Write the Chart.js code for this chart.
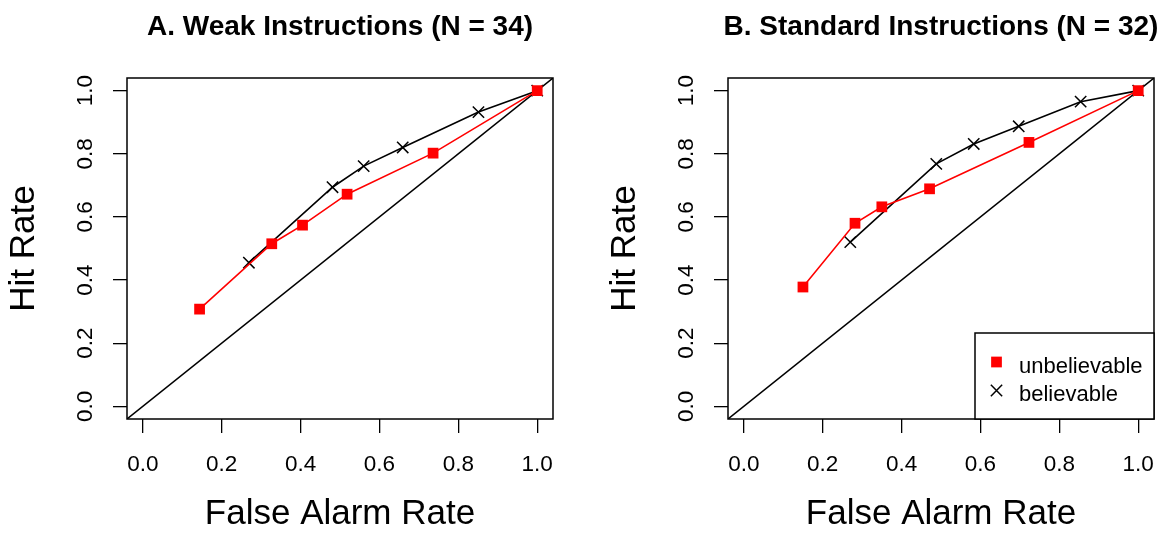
<!DOCTYPE html>
<html><head><meta charset="utf-8">
<script src="https://cdn.jsdelivr.net/npm/chart.js@4.4.0/dist/chart.umd.min.js"></script>
<style>
html,body{margin:0;padding:0;background:#fff;overflow:hidden;}
#wrap{position:relative;width:1165px;height:534px;overflow:hidden;background:#fff;}
canvas{position:absolute;top:0;}
</style></head><body>
<div id="wrap">
<canvas id="cA" width="680" height="534" style="left:0px"></canvas>
<canvas id="cB" width="680" height="534" style="left:601px"></canvas>
</div>
<script>
// ---- data ----
const panelTitles = ['A. Weak Instructions (N = 34)', 'B. Standard Instructions (N = 32)'];
const seriesNames = ['unbelievable', 'believable'];
const tickValues = [0.0, 0.2, 0.4, 0.6, 0.8, 1.0];
const axisRange = [-0.04, 1.04];
const xTitle = 'False Alarm Rate';
const yTitle = 'Hit Rate';

const weakUnbelievableFA  = [0.144, 0.327, 0.405, 0.518, 0.736, 1.0];
const weakUnbelievableHit = [0.308, 0.515, 0.574, 0.672, 0.802, 1.0];
const weakBelievableFA    = [0.269, 0.481, 0.560, 0.659, 0.851, 1.0];
const weakBelievableHit   = [0.455, 0.694, 0.761, 0.820, 0.932, 1.0];

const stdUnbelievableFA   = [0.150, 0.282, 0.350, 0.471, 0.723, 1.0];
const stdUnbelievableHit  = [0.378, 0.580, 0.632, 0.689, 0.836, 1.0];
const stdBelievableFA     = [0.270, 0.488, 0.583, 0.697, 0.854, 1.0];
const stdBelievableHit    = [0.520, 0.768, 0.831, 0.887, 0.965, 1.0];

// ---- rendering ----
const FONT = "'Liberation Sans', Arial, Helvetica, sans-serif";
Chart.defaults.color = '#000';
Chart.defaults.font.family = FONT;

const pts = (xs, ys) => xs.map((x, i) => ({x: x, y: ys[i]}));

const framePlugin = {
  id: 'frame',
  afterDraw(chart) {
    const {ctx, chartArea: a} = chart;
    ctx.save();
    ctx.strokeStyle = '#000';
    ctx.lineWidth = 1.5;
    ctx.strokeRect(a.left, a.top, a.right - a.left, a.bottom - a.top);
    ctx.restore();
  }
};

const legendPlugin = {
  id: 'rLegend',
  afterDraw(chart, args, opts) {
    if (!opts || !opts.show) return;
    const {ctx, chartArea: a} = chart;
    const w = 179, h = 86;
    const left = a.right - w, top = a.bottom - h;
    ctx.save();
    ctx.fillStyle = '#fff';
    ctx.fillRect(left, top, w, h);
    ctx.strokeStyle = '#000';
    ctx.lineWidth = 1.5;
    ctx.strokeRect(left, top, w, h);
    const rows = [29, 57.5];
    const base = [39.6, 68.3];
    seriesNames.forEach((name, i) => {
      const ds = chart.data.datasets[i];
      ctx.fillStyle = ds.pointBackgroundColor;
      ctx.strokeStyle = ds.pointBorderColor;
      ctx.lineWidth = ds.pointBorderWidth;
      Chart.helpers.drawPoint(ctx, {pointStyle: ds.pointStyle, radius: ds.pointRadius, rotation: 0, borderWidth: ds.pointBorderWidth}, left + 21.5, top + rows[i]);
      ctx.fillStyle = '#000';
      ctx.font = '22px ' + FONT;
      ctx.textAlign = 'left';
      ctx.textBaseline = 'alphabetic';
      ctx.fillText(name, left + 44, top + base[i]);
    });
    ctx.restore();
  }
};

function makeChart(id, title, uFA, uHit, bFA, bHit, showLegend) {
  const axisCommon = {
    type: 'linear',
    min: axisRange[0],
    max: axisRange[1],
    afterBuildTicks: s => { s.ticks = tickValues.map(v => ({value: v})); },
    grid: {display: true, drawOnChartArea: false, drawTicks: true, tickLength: 14, color: '#000', lineWidth: 1.3},
    border: {display: false}
  };
  return new Chart(document.getElementById(id), {
    type: 'line',
    data: {
      datasets: [
        {
          label: seriesNames[0],
          data: pts(uFA, uHit),
          borderColor: '#ff0000',
          borderWidth: 1.6,
          pointStyle: 'rect',
          pointRadius: 7.6,
          pointBackgroundColor: '#ff0000',
          pointBorderColor: '#ff0000',
          pointBorderWidth: 0,
          tension: 0
        },
        {
          label: seriesNames[1],
          data: pts(bFA, bHit),
          borderColor: '#000',
          borderWidth: 1.6,
          pointStyle: 'crossRot',
          pointRadius: 8,
          pointBackgroundColor: '#000',
          pointBorderColor: '#000',
          pointBorderWidth: 1.5,
          tension: 0
        },
        {
          label: 'diagonal',
          data: [{x: axisRange[0], y: axisRange[0]}, {x: axisRange[1], y: axisRange[1]}],
          borderColor: '#000',
          borderWidth: 1.5,
          pointRadius: 0,
          tension: 0
        }
      ]
    },
    options: {
      responsive: false,
      animation: false,
      devicePixelRatio: 1,
      events: [],
      layout: {padding: {left: 0, right: 0, top: 0, bottom: 0}},
      plugins: {
        legend: {display: false},
        tooltip: {enabled: false},
        title: {
          display: true,
          text: title,
          color: '#000',
          font: {family: FONT, size: 28, weight: 'bold', lineHeight: 1.2},
          padding: {top: 10, bottom: 34.4}
        },
        rLegend: {show: showLegend}
      },
      scales: {
        x: Object.assign({}, axisCommon, {
          position: 'bottom',
          afterFit: s => { s.height = 115; },
          ticks: {padding: 17.8, font: {family: FONT, size: 22.5}, color: '#000', callback: v => Number(v).toFixed(1), maxRotation: 0, minRotation: 0, autoSkip: false},
          title: {display: true, text: xTitle, color: '#000', font: {family: FONT, size: 35, lineHeight: 1.1}, padding: {top: 0, bottom: 0}}
        }),
        y: Object.assign({}, axisCommon, {
          position: 'left',
          afterFit: s => { s.width = 127; },
          ticks: {padding: 11.5, font: {family: FONT, size: 22.5}, color: '#000', callback: v => Number(v).toFixed(1), minRotation: 90, maxRotation: 90, crossAlign: 'center', autoSkip: false},
          title: {display: true, text: yTitle, color: '#000', font: {family: FONT, size: 35, lineHeight: 1.1}, padding: {top: 5, bottom: 0}}
        }),
        spacer: {
          type: 'linear',
          position: 'right',
          display: true,
          afterFit: s => { s.width = 127; },
          grid: {display: false, drawTicks: false},
          border: {display: false},
          ticks: {display: false},
          title: {display: false}
        }
      }
    },
    plugins: [framePlugin, legendPlugin]
  });
}

makeChart('cA', panelTitles[0], weakUnbelievableFA, weakUnbelievableHit, weakBelievableFA, weakBelievableHit, false);
makeChart('cB', panelTitles[1], stdUnbelievableFA, stdUnbelievableHit, stdBelievableFA, stdBelievableHit, true);
</script>
</body></html>
